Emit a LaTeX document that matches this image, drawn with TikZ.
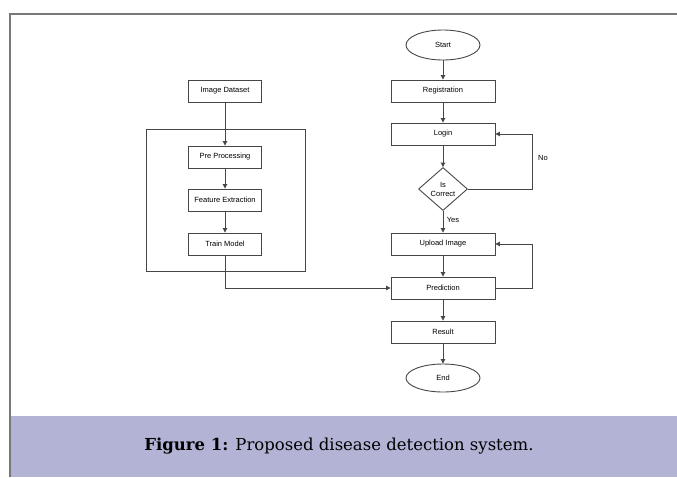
\documentclass[tikz,border=0pt]{standalone}
\usepackage{fontspec}
\setmainfont{Liberation Sans}
\newfontfamily\capfont{DejaVu Serif}
\usetikzlibrary{shapes.geometric,arrows.meta}
\definecolor{bandblue}{RGB}{179,179,214}
\definecolor{framegray}{RGB}{120,120,120}
\definecolor{linegray}{RGB}{70,70,70}
\tikzset{
  box/.style={draw=linegray,line width=0.9pt,rectangle,minimum width=104pt,minimum height=22pt,font=\fontsize{7.5}{9}\selectfont,inner sep=1pt},
  smallbox/.style={box,minimum width=73pt},
  term/.style={draw=linegray,line width=0.9pt,ellipse,minimum width=74pt,minimum height=30pt,font=\fontsize{7.5}{9}\selectfont,inner sep=0pt},
  decision/.style={draw=linegray,line width=0.9pt,diamond,minimum width=49pt,minimum height=43pt,font=\fontsize{7.5}{9}\selectfont,inner sep=0pt,align=center},
  arr/.style={draw=linegray,line width=0.9pt,-{Triangle[length=4.5pt,width=4.5pt]}}
}
\begin{document}
\begin{tikzpicture}[x=1pt,y=-1pt]
\useasboundingbox (0,0) rectangle (677,477);
% caption band and frame
\fill[bandblue] (11,416) rectangle (677,477);
\draw[framegray,line width=2pt] (10,477) -- (10,14) -- (677,14);
\node (caption) at (339,446) {\capfont\fontsize{16.5}{19}\selectfont\textbf{Figure 1:} Proposed disease detection system.};
% training side
\draw[linegray,line width=0.9pt] (146,129) rectangle (305,271);
\node[smallbox] (dataset) at (225,91) {Image Dataset};
\node[smallbox] (prep) at (225,157) {Pre Processing};
\node[smallbox] (feat) at (225,200) {Feature Extraction};
\node[smallbox] (train) at (225,244) {Train Model};
% user side
\node[term] (start) at (443,45) {Start};
\node[box] (reg) at (443,91) {Registration};
\node[box] (login) at (443,134) {Login};
\node[decision] (check) at (443,189) {Is\\Correct};
\node[box] (upload) at (443,244) {Upload Image};
\node[box] (pred) at (443,288) {Prediction};
\node[box] (result) at (443,332) {Result};
\node[term,minimum height=28pt] (end) at (443,378) {End};
\coordinate (nocorner) at (532,134);
\coordinate (upcorner) at (532,244);
% connectors
\draw[arr] (dataset) -- (prep);
\draw[arr] (prep) -- (feat);
\draw[arr] (feat) -- (train);
\draw[arr] (train.south) |- (pred.west);
\draw[arr] (start) -- (reg);
\draw[arr] (reg) -- (login);
\draw[arr] (login) -- (check);
\draw[arr] (check) -- node[right,font=\fontsize{7.5}{9}\selectfont,pos=0.4] {Yes} (upload);
\draw[arr] (check.east) -| (nocorner) -- (login.east);
\draw[arr] (upload) -- (pred);
\draw[arr] (pred.east) -| (upcorner) -- (upload.east);
\draw[arr] (pred) -- (result);
\draw[arr] (result) -- (end);
\node[font=\fontsize{7.5}{9}\selectfont] (nolabel) at (543,158) {No};
\end{tikzpicture}
\end{document}
